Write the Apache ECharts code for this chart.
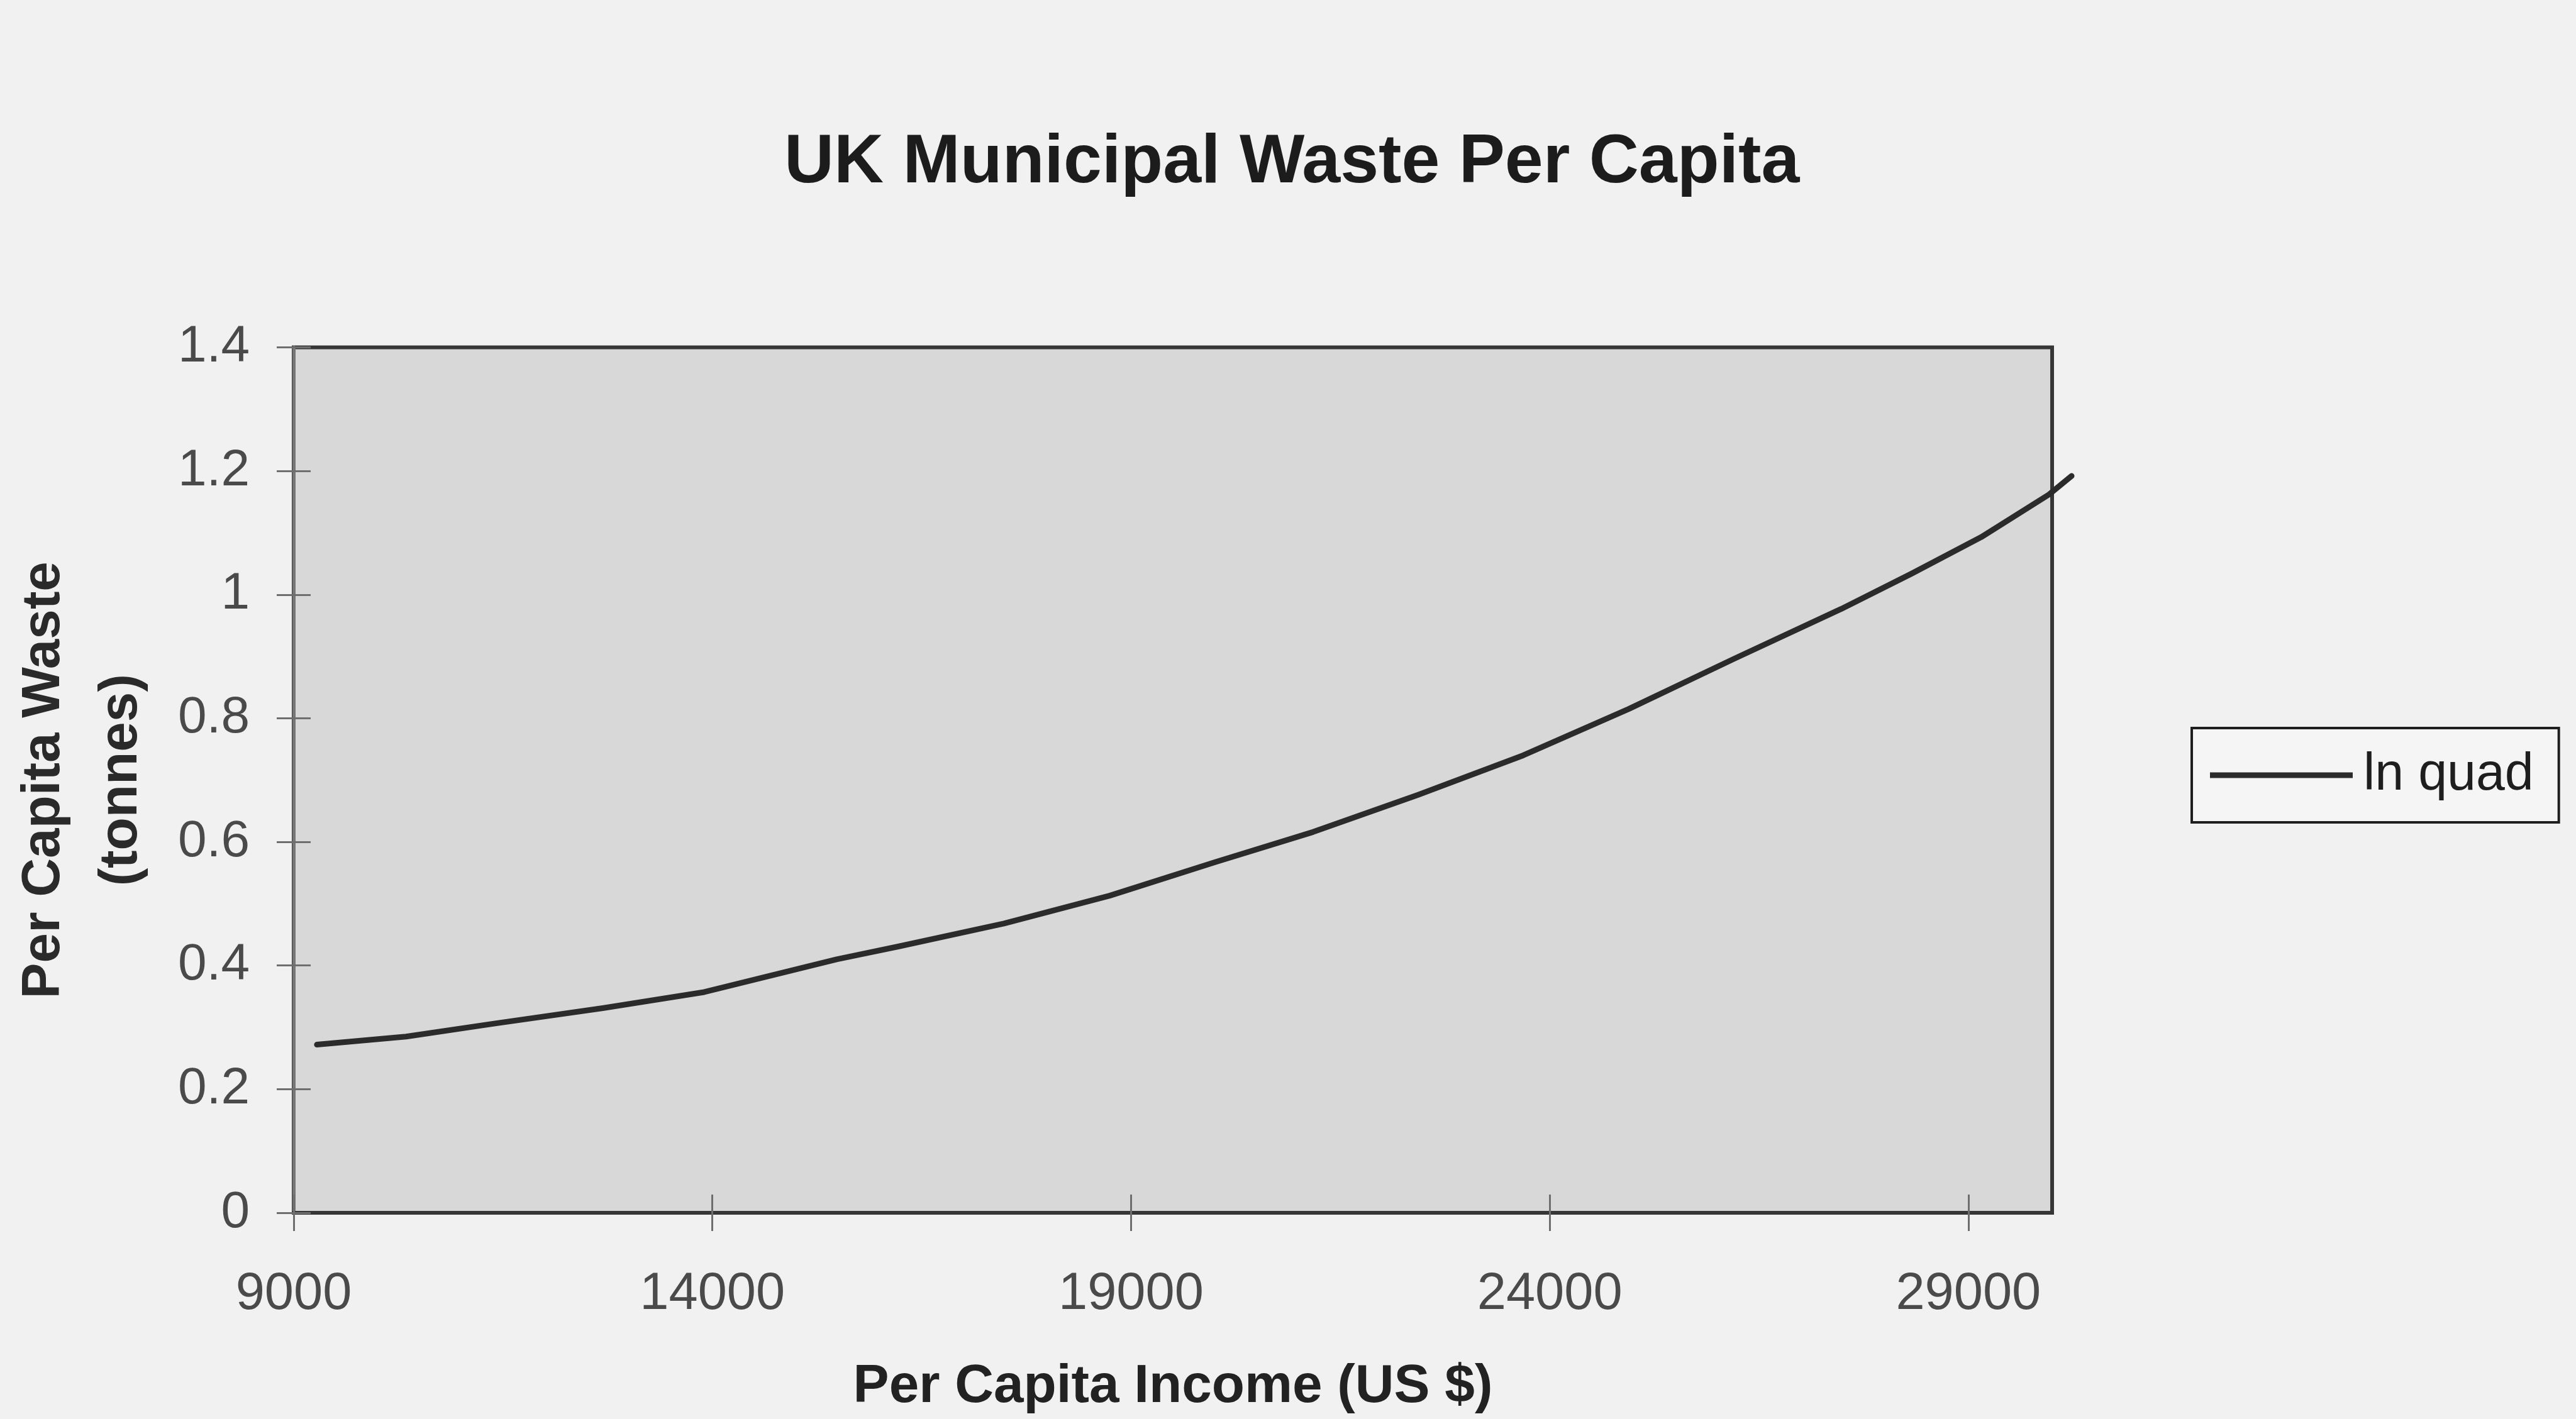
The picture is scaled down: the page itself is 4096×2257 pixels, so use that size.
<!DOCTYPE html>
<html>
<head>
<meta charset="utf-8">
<script src="https://cdn.jsdelivr.net/npm/echarts@6/dist/echarts.min.js"></script>
<style>
  html, body { margin: 0; padding: 0; background: #f1f1f1; }
  #chart { width: 4096px; height: 2257px; }
</style>
</head>
<body>
<div id="chart"></div>
<script>
// ---- data ----
const incomes = [9277, 10342, 11392, 12691, 13902, 15484, 16228, 17483, 18745, 19999,
                 21173, 22428, 23683, 24944, 26199, 27483, 28322, 29153, 29963, 30233];
const waste   = [0.272, 0.285, 0.306, 0.331, 0.357, 0.410, 0.431, 0.468, 0.513, 0.567,
                 0.616, 0.676, 0.740, 0.815, 0.896, 0.977, 1.034, 1.093, 1.162, 1.192];
const xTickValues = [9000, 14000, 19000, 24000, 29000];
const seriesName = 'ln quad';
const chartTitle = 'UK Municipal Waste Per Capita';
const xTitle = 'Per Capita Income (US $)';
const yTitle = 'Per Capita Waste\n(tonnes)';

const FONT = '"Liberation Sans", Arial, Helvetica, sans-serif';

// plot geometry (output pixels)
const PLOT_LEFT = 467, PLOT_RIGHT_GAP = 833, PLOT_TOP = 552.5, PLOT_BOTTOM_GAP = 328;
const X_MIN = 9000, X_MAX = 30000;
// the curve runs a little past the right border in the reference; an invisible
// companion grid with the very same scale, only wider, carries it unclipped
const X_MAX_EXT = 30300;
const plotW = 4096 - PLOT_LEFT - PLOT_RIGHT_GAP;
const extPx = plotW * (X_MAX_EXT - X_MAX) / (X_MAX - X_MIN);

const chart = echarts.init(document.getElementById('chart'), null, { renderer: 'canvas' });

const points = incomes.map((x, i) => [x, waste[i]]);

const tickLine = { color: '#6e6e6e', width: 3 };

chart.setOption({
  backgroundColor: '#f1f1f1',
  animation: false,
  title: {
    text: chartTitle,
    left: 1247,
    top: 205,
    padding: 0,
    textStyle: {
      fontFamily: FONT, fontWeight: 'bold', fontSize: 109.5,
      lineHeight: 109.5, color: '#1c1c1c'
    }
  },
  legend: {
    data: [seriesName],
    left: 3485,
    top: 1158,
    orient: 'vertical',
    padding: [30, 40, 30, 29],
    borderColor: '#1e1e1e',
    borderWidth: 4,
    backgroundColor: '#f5f5f5',
    icon: 'rect',
    itemWidth: 227,
    itemHeight: 9,
    textStyle: {
      fontFamily: FONT, fontSize: 82.5, lineHeight: 90,
      color: '#1e1e1e', padding: [0, 0, 0, 12]
    }
  },
  grid: [
    {
      left: PLOT_LEFT,
      right: PLOT_RIGHT_GAP,
      top: PLOT_TOP,
      bottom: PLOT_BOTTOM_GAP,
      show: true,
      backgroundColor: '#d8d8d8',
      borderColor: '#363636',
      borderWidth: 6
    },
    {
      left: PLOT_LEFT,
      right: PLOT_RIGHT_GAP - extPx,
      top: PLOT_TOP,
      bottom: PLOT_BOTTOM_GAP,
      show: false
    }
  ],
  xAxis: [
    {
      type: 'value',
      gridIndex: 0,
      min: X_MIN,
      max: X_MAX,
      position: 'bottom',
      name: xTitle,
      nameLocation: 'middle',
      nameGap: 235,
      nameTextStyle: {
        fontFamily: FONT, fontWeight: 'bold', fontSize: 85.5,
        lineHeight: 85.5, color: '#222222'
      },
      axisLine: { show: true, onZero: false, lineStyle: { color: '#363636', width: 6 } },
      axisTick: { show: true, length: 29, lineStyle: tickLine, customValues: xTickValues },
      axisLabel: {
        show: true, margin: 89, customValues: xTickValues,
        formatter: (v) => String(v),
        fontFamily: FONT, fontSize: 83, lineHeight: 83, color: '#4a4a4a'
      },
      splitLine: { show: false }
    },
    {
      type: 'value',
      gridIndex: 0,
      min: X_MIN,
      max: X_MAX,
      position: 'bottom',
      axisLine: { show: false },
      axisTick: { show: true, inside: true, length: 29, lineStyle: tickLine, customValues: xTickValues },
      axisLabel: { show: false },
      splitLine: { show: false }
    },
    {
      type: 'value',
      gridIndex: 1,
      min: X_MIN,
      max: X_MAX_EXT,
      show: false,
      splitLine: { show: false }
    }
  ],
  yAxis: [
    {
      type: 'value',
      gridIndex: 0,
      min: 0,
      max: 1.4,
      interval: 0.2,
      position: 'left',
      name: yTitle,
      nameLocation: 'middle',
      nameRotate: 90,
      nameGap: 212,
      nameTextStyle: {
        fontFamily: FONT, fontWeight: 'bold', fontSize: 85.5,
        lineHeight: 123, color: '#2a2a2a'
      },
      axisLine: { show: true, onZero: false, lineStyle: { color: '#777777', width: 5 } },
      axisTick: { show: true, length: 27, lineStyle: tickLine },
      axisLabel: {
        show: true, margin: 70,
        fontFamily: FONT, fontSize: 82, color: '#4a4a4a'
      },
      splitLine: { show: false }
    },
    {
      type: 'value',
      gridIndex: 0,
      min: 0,
      max: 1.4,
      interval: 0.2,
      position: 'left',
      axisLine: { show: false },
      axisTick: { show: true, inside: true, length: 27, lineStyle: tickLine },
      axisLabel: { show: false },
      splitLine: { show: false }
    },
    {
      type: 'value',
      gridIndex: 1,
      min: 0,
      max: 1.4,
      show: false,
      splitLine: { show: false }
    }
  ],
  series: [
    {
      name: seriesName,
      type: 'line',
      xAxisIndex: 2,
      yAxisIndex: 2,
      data: points,
      clip: false,
      symbol: 'none',
      showSymbol: false,
      smooth: false,
      lineStyle: { color: '#2b2b2b', width: 9, cap: 'round', join: 'round' },
      itemStyle: { color: '#2b2b2b' },
      z: 5
    }
  ]
});
</script>
</body>
</html>
